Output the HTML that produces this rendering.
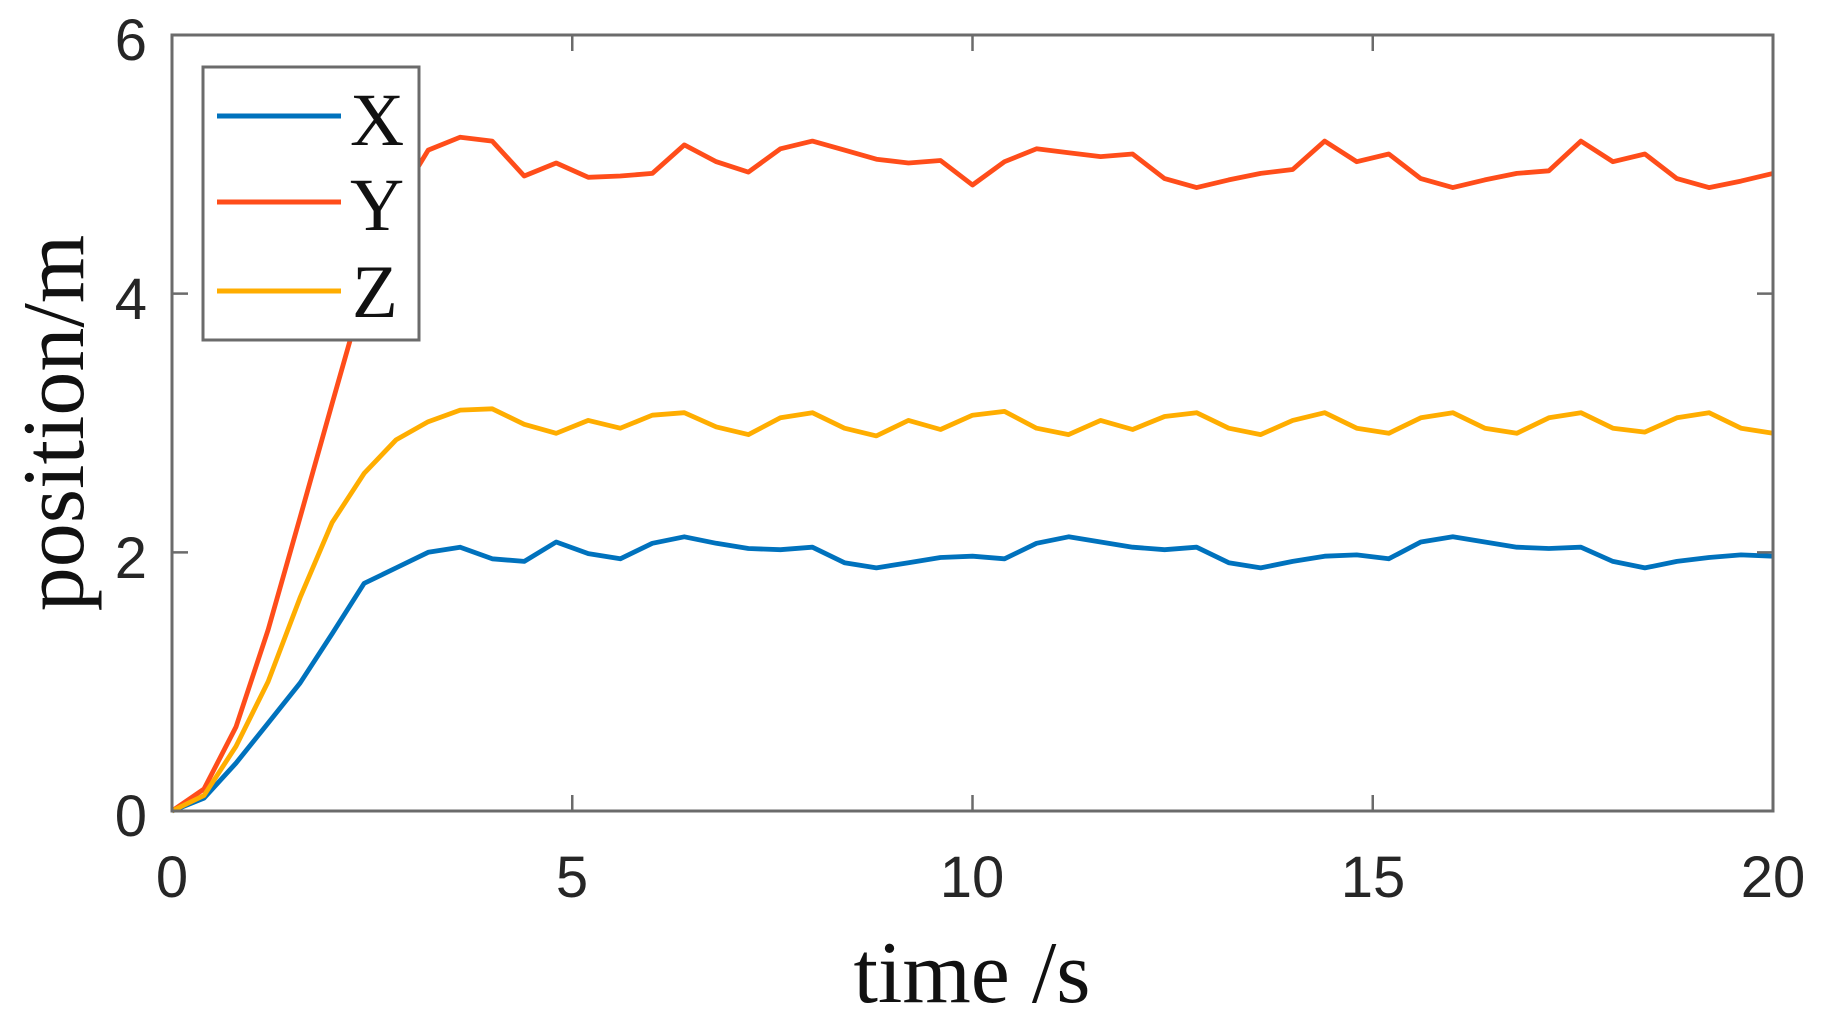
<!DOCTYPE html>
<html><head><meta charset="utf-8"><style>
html,body{margin:0;padding:0;background:#fff;}
svg{display:block;}
</style></head><body>
<svg id="s" width="1821" height="1015" viewBox="0 0 1821 1015" xmlns="http://www.w3.org/2000/svg">
<rect width="1821" height="1015" fill="#fff"/>
<g id="series" fill="none" stroke-width="4.8" stroke-linejoin="round"></g>
<rect x="172" y="35" width="1601" height="776" fill="none" stroke="#6b6b6b" stroke-width="3"/>
<g id="ticks" stroke="#6b6b6b" stroke-width="2.5"></g>
<g font-family="Liberation Sans, Arial, sans-serif" font-size="58" fill="#262626">
<text x="147" y="60" text-anchor="end">6</text>
<text x="147" y="319" text-anchor="end">4</text>
<text x="147" y="578" text-anchor="end">2</text>
<text x="147" y="836" text-anchor="end">0</text>
<text x="172" y="897" text-anchor="middle">0</text>
<text x="572" y="897" text-anchor="middle">5</text>
<text x="972" y="897" text-anchor="middle">10</text>
<text x="1373" y="897" text-anchor="middle">15</text>
<text x="1773" y="897" text-anchor="middle">20</text>
</g>
<text x="972" y="1002" text-anchor="middle" font-family="Liberation Serif, Times New Roman, serif" font-size="88" fill="#111">time /s</text>
<text transform="translate(83,423) rotate(-90)" text-anchor="middle" font-family="Liberation Serif, Times New Roman, serif" font-size="88" fill="#111">position/m</text>
<rect x="203" y="67" width="216" height="273" fill="#fff" stroke="#6b6b6b" stroke-width="3"/>
<line x1="217" y1="116" x2="341" y2="116" stroke="#0072BD" stroke-width="5"/>
<line x1="217" y1="202" x2="341" y2="202" stroke="#FF4D1A" stroke-width="5"/>
<line x1="217" y1="291" x2="341" y2="291" stroke="#FFAD00" stroke-width="5"/>
<g font-family="Liberation Serif, Times New Roman, serif" font-size="75" fill="#111">
<text x="350" y="145">X</text>
<text x="350" y="230">Y</text>
<text x="352" y="317">Z</text>
</g>
</svg>
<script>
var L=172,R=1773,T=35,B=811;
function X(t){return L+(R-L)*t/20;}
function Y(v){return B-(B-T)*v/6;}
var red=[0,0.17,0.65,1.4,2.27,3.15,4.02,4.7,5.11,5.21,5.18,4.91,5.01,4.90,4.91,4.93,5.15,5.02,
4.94,5.12,5.18,5.11,5.04,5.01,5.03,4.84,5.02,5.12,5.09,5.06,5.08,4.89,4.82,4.88,4.93,4.96,5.18,5.02,5.08,4.89,4.82,4.88,4.93,4.95,5.18,5.02,5.08,4.89,4.82,4.87,4.93];
var yel=[0,0.12,0.5,1.0,1.65,2.23,2.61,2.87,3.01,3.10,3.11,2.99,2.92,3.02,2.96,3.06,3.08,2.97,
2.91,3.04,3.08,2.96,2.90,3.02,2.95,3.06,3.09,2.96,2.91,3.02,2.95,3.05,3.08,2.96,2.91,3.02,3.08,2.96,2.92,3.04,3.08,2.96,2.92,3.04,3.08,2.96,2.93,3.04,3.08,2.96,2.92];
var blu=[0,0.1,0.37,0.68,0.99,1.37,1.76,1.88,2.0,2.04,1.95,1.93,2.08,1.99,1.95,2.07,2.12,2.07,
2.03,2.02,2.04,1.92,1.88,1.92,1.96,1.97,1.95,2.07,2.12,2.08,2.04,2.02,2.04,1.92,1.88,1.93,1.97,1.98,1.95,2.08,2.12,2.08,2.04,2.03,2.04,1.93,1.88,1.93,1.96,1.98,1.97];
var ns="http://www.w3.org/2000/svg",g=document.getElementById('series');
[[blu,"#0072BD"],[red,"#FF4D1A"],[yel,"#FFAD00"]].forEach(function(s){
 var p=s[0].map(function(v,i){return X(i*0.4).toFixed(1)+","+Y(v).toFixed(1);}).join(" ");
 var e=document.createElementNS(ns,"polyline");e.setAttribute("points",p);e.setAttribute("stroke",s[1]);g.appendChild(e);
});
var tk=document.getElementById('ticks'),d="";
[0,5,10,15,20].forEach(function(t){var x=X(t);d+="M"+x+","+B+"v-16M"+x+","+T+"v16";});
[0,2,4,6].forEach(function(v){var y=Y(v);d+="M"+L+","+y+"h16M"+R+","+y+"h-16";});
var pe=document.createElementNS(ns,"path");pe.setAttribute("d",d);tk.appendChild(pe);
</script>
</body></html>
